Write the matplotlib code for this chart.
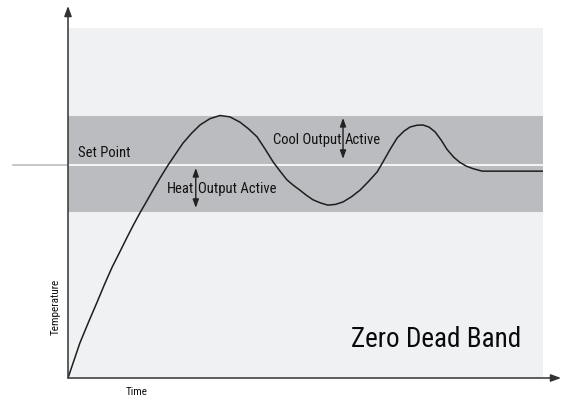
import matplotlib.pyplot as plt

# Zero dead band control: temperature response against time
time = [0, 2.5, 4.3, 6.1, 7.7, 9.3, 10.9, 12.4, 13.8, 15.2, 16.6, 17.9, 19.5, 21.1,
        22.7, 24.2, 26.0, 27.8, 29.9, 32.0, 34.1, 36.2, 38.0, 39.8, 41.5, 43.2,
        44.7, 46.1, 47.5, 48.8, 50.2, 51.6, 53.2, 54.7, 56.3, 57.9, 59.7, 61.5,
        63.3, 65.1, 66.3, 67.8, 69.3, 70.7, 72.0, 73.4, 74.7, 76.0, 77.3, 78.6,
        79.8, 81.2, 82.5, 83.9, 85.3, 87.2, 90.9, 100]
temperature = [0, 10.0, 15.9, 21.6, 26.8, 31.7, 36.0, 40.1, 43.8, 47.3, 50.6, 53.7,
               57.4, 60.9, 64.1, 67.1, 69.9, 72.3, 74.1, 75.0, 74.6, 73.1, 71.2,
               68.9, 65.4, 61.7, 59.0, 56.6, 55.0, 53.7, 52.2, 50.9, 50.0, 49.4,
               49.6, 50.3, 51.8, 53.7, 56.2, 58.9, 61.7, 65.3, 68.6, 70.5, 71.7,
               72.2, 72.3, 71.7, 70.3, 67.9, 65.3, 63.1, 61.6, 60.5, 59.8, 59.1,
               59.1, 59.1]

set_point = 61
band_low, band_high = 47.5, 75

plt.rcParams['font.family'] = ['Roboto Condensed', 'DejaVu Sans']

fig = plt.figure(figsize=(5.62, 4), dpi=100)
ax = fig.add_axes([68 / 562, 22 / 400, 475 / 562, 350 / 400])
ax.set_xlim(0, 100)
ax.set_ylim(0, 100)
ax.set_facecolor('#f0f1f3')
for s in ax.spines.values():
    s.set_visible(False)
ax.set_xticks([])
ax.set_yticks([])

# proportional band around the set point
ax.axhspan(band_low, band_high, color='#bbbcbf', lw=0)

# set point line, grey outside the plot, white inside the band
ax.plot([-11.6, 0], [set_point, set_point], color='#bdbdbd', lw=1.2, clip_on=False)
ax.plot([0, 100], [set_point, set_point], color='white', lw=1.2)

ax.plot(time, temperature, color='#1e1e1e', lw=1.1, solid_joinstyle='round')

# axes with arrow heads
arrow = dict(arrowstyle='-|>,head_length=0.6,head_width=0.22', color='#333333',
             lw=1.1, mutation_scale=10, shrinkA=0, shrinkB=0)
ax.annotate('', xy=(103.8, 0), xytext=(0, 0), arrowprops=arrow, annotation_clip=False)
ax.annotate('', xy=(0, 106.3), xytext=(0, 0), arrowprops=arrow, annotation_clip=False)

# output markers
dbl = dict(arrowstyle='<|-|>,head_length=0.5,head_width=0.18', color='#222222',
           lw=1.0, mutation_scale=10, shrinkA=0, shrinkB=0)
ax.annotate('', xy=(26.9, 60.0), xytext=(26.9, 48.6), arrowprops=dbl)
ax.annotate('', xy=(57.9, 74.3), xytext=(57.9, 62.6), arrowprops=dbl)

txt = dict(fontsize=10.5, color='#111111', va='center')
ax.text(2.1, 64.2, 'Set Point', ha='left', **txt)
ax.text(26.5, 54.0, 'Heat', ha='right', **txt)
ax.text(27.3, 54.0, 'Output Active', ha='left', **txt)
ax.text(57.5, 68.0, 'Cool Output', ha='right', **txt)
ax.text(58.3, 68.0, 'Active', ha='left', **txt)

ax.text(95.4, 11.1, 'Zero Dead Band', ha='right', va='center', fontsize=19.5, color='#0a0a0a')

ax.text(-2.5, 20.3, 'Temperature', rotation=90, ha='center', va='center',
        fontsize=8, color='#111111', clip_on=False)
ax.text(14.5, -4.0, 'Time', ha='center', va='center', fontsize=8,
        color='#111111', clip_on=False)

fig.savefig('out.png', dpi=100)
